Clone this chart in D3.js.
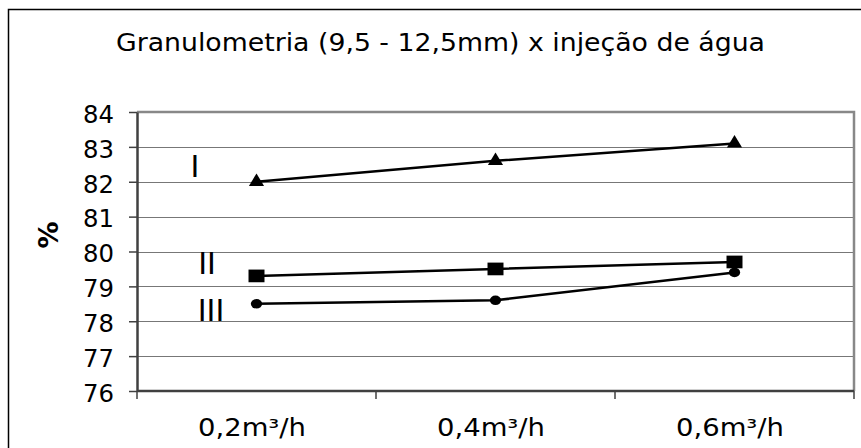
<!DOCTYPE html>
<html>
<head>
<meta charset="utf-8">
<title>Granulometria x injeção de água</title>
<script src="https://d3js.org/d3.v7.min.js"></script>
<style>
body { margin: 0; background: white; }
svg text { font-family: "DejaVu Sans", Verdana, sans-serif; fill: black; }
</style>
</head>
<body>
<script>
// data
var categories = ["0,2m³/h", "0,4m³/h", "0,6m³/h"];
var serieNames = ["I", "II", "III"];
var serieI = [82.0, 82.6, 83.1];
var serieII = [79.3, 79.5, 79.7];
var serieIII = [78.5, 78.6, 79.4];
var yTicks = [76, 77, 78, 79, 80, 81, 82, 83, 84];
var titleText = "Granulometria (9,5 - 12,5mm) x injeção de água";
var yLabel = "%";

var w = 861, h = 448;
var plot = { left: 137, top: 112, right: 854, bottom: 391 };

var svg = d3.select("body").append("svg")
	.attr("width", w)
	.attr("height", h);

// outer frame (runs off the right/bottom edge like the original)
svg.append("rect")
	.attr("x", 8.5).attr("y", 9.5)
	.attr("width", w + 10).attr("height", h + 10)
	.attr("fill", "white")
	.attr("stroke", "black")
	.attr("stroke-width", 1.5);

var x = d3.scaleBand()
	.domain(categories)
	.range([plot.left, plot.right]);

var y = d3.scaleLinear()
	.domain([76, 84])
	.range([plot.bottom, plot.top]);

// gridlines
svg.append("g")
	.selectAll("line")
	.data(yTicks.slice(1))
	.enter()
	.append("line")
	.attr("x1", plot.left).attr("x2", plot.right)
	.attr("y1", function(d){ return Math.round(y(d)) + 0.5; })
	.attr("y2", function(d){ return Math.round(y(d)) + 0.5; })
	.attr("stroke", "#777")
	.attr("stroke-width", 1)
	.attr("shape-rendering", "crispEdges");

// plot area top/right border
svg.append("path")
	.attr("d", "M" + plot.left + "," + plot.top + "H" + plot.right + "V" + plot.bottom)
	.attr("fill", "none")
	.attr("stroke", "#888")
	.attr("stroke-width", 2.5);

// y axis
var yAxis = svg.append("g")
	.attr("transform", "translate(" + plot.left + ",0)")
	.call(d3.axisLeft(y).tickValues(yTicks).tickSize(8).tickPadding(15).tickSizeOuter(0));
yAxis.select(".domain").attr("stroke", "#404040").attr("stroke-width", 2.5);
yAxis.selectAll(".tick line").attr("stroke", "#404040").attr("stroke-width", 1.5);
yAxis.selectAll("text")
	.attr("font-size", 24)
	.attr("font-family", "DejaVu Sans")
	.attr("dy", "0.43em")
	.attr("textLength", 31)
	.attr("lengthAdjust", "spacingAndGlyphs")
	.attr("fill", "black");

// x axis: ticks between categories
var xEdges = categories.map(function(c){ return x(c); }).concat([plot.right]);
var xAxis = svg.append("g");
xAxis.append("line")
	.attr("x1", plot.left).attr("x2", plot.right)
	.attr("y1", plot.bottom).attr("y2", plot.bottom)
	.attr("stroke", "#404040").attr("stroke-width", 2.5);
xAxis.selectAll("line.tk")
	.data(xEdges)
	.enter()
	.append("line")
	.attr("class", "tk")
	.attr("x1", function(d){ return d; }).attr("x2", function(d){ return d; })
	.attr("y1", plot.bottom).attr("y2", plot.bottom + 8)
	.attr("stroke", "#404040").attr("stroke-width", 1.5);
xAxis.selectAll("text")
	.data(categories)
	.enter()
	.append("text")
	.attr("x", function(d){ return x(d) + x.bandwidth() / 2 - 4.5; })
	.attr("y", 436)
	.attr("text-anchor", "middle")
	.attr("font-size", 24)
	.attr("textLength", 108)
	.attr("lengthAdjust", "spacingAndGlyphs")
	.text(function(d){ return d; });

// title
svg.append("text")
	.attr("x", 440.5)
	.attr("y", 51)
	.attr("text-anchor", "middle")
	.attr("font-size", 24)
	.attr("textLength", 649)
	.attr("lengthAdjust", "spacingAndGlyphs")
	.text(titleText);

// y label
svg.append("text")
	.attr("transform", "translate(58,235) rotate(-90)")
	.attr("text-anchor", "middle")
	.attr("font-size", 27)
	.attr("font-weight", "bold")
	.text(yLabel);

// series (label position given as value on the y scale + offset from plot left)
var series = [
	{ name: serieNames[0], values: serieI, marker: d3.symbolTriangle, size: 90, sx: 1.05, lx: 58, ly: 82.14 },
	{ name: serieNames[1], values: serieII, marker: d3.symbolSquare, size: 161, sx: 1.26, lx: 70, ly: 79.35 },
	{ name: serieNames[2], values: serieIII, marker: d3.symbolCircle, size: 72, sx: 1.18, lx: 74, ly: 78.0 }
];

var line = d3.line()
	.x(function(d, i){ return x(categories[i]) + x.bandwidth() / 2; })
	.y(function(d){ return y(d); });

series.forEach(function(s){
	svg.append("path")
		.datum(s.values)
		.attr("d", line)
		.attr("fill", "none")
		.attr("stroke", "black")
		.attr("stroke-width", 2.5);
	svg.append("g")
		.selectAll("path")
		.data(s.values)
		.enter()
		.append("path")
		.attr("d", d3.symbol().type(s.marker).size(s.size))
		.attr("transform", function(d, i){
			return "translate(" + (x(categories[i]) + x.bandwidth() / 2) + "," + y(d) + ") scale(" + s.sx + ",1)";
		})
		.attr("fill", "black");
	svg.append("text")
		.attr("x", plot.left + s.lx)
		.attr("y", y(s.ly))
		.attr("text-anchor", "middle")
		.attr("font-size", 30)
		.text(s.name);
});
</script>
</body>
</html>
